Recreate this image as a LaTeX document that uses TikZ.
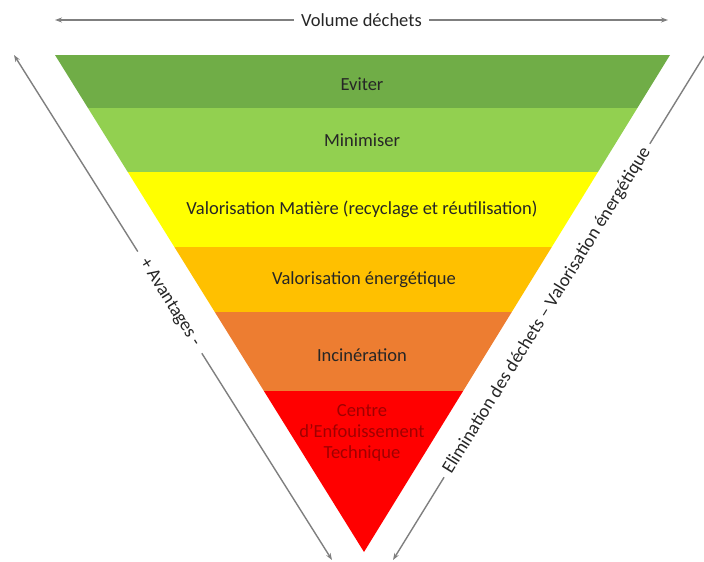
\documentclass[tikz,border=0pt]{standalone}
\usepackage{fontspec}
\setmainfont{Carlito}
\usetikzlibrary{arrows.meta}
\definecolor{cEviter}{HTML}{70AD47}
\definecolor{cMini}{HTML}{92D050}
\definecolor{cVM}{HTML}{FFFF00}
\definecolor{cVE}{HTML}{FFC000}
\definecolor{cInc}{HTML}{ED7D31}
\definecolor{cCET}{HTML}{FF0000}
\definecolor{cCETtxt}{HTML}{A00000}
\definecolor{cArrow}{HTML}{7F7F7F}
\tikzset{
  lbl/.style={font=\fontsize{18.5}{21}\selectfont, text=black!85, align=center},
  axis/.style={draw=cArrow, line width=1.4pt, {Stealth[length=7pt,width=5pt]}-{Stealth[length=7pt,width=5pt]}},
  axisone/.style={draw=cArrow, line width=1.4pt, {Stealth[length=7pt,width=5pt]}-},
  axlbl/.style={font=\fontsize{18.5}{21}\selectfont, text=black!85, fill=white, inner sep=8pt, sloped}
}
\begin{document}
\begin{tikzpicture}[x=1pt,y=-1pt]
\useasboundingbox (0,0) rectangle (704,562);
\coordinate (TL) at (55,55);
\coordinate (TR) at (670,55);
\coordinate (TIP) at (364,552);
\begin{scope}
  \clip (TL) -- (TR) -- (TIP) -- cycle;
  \fill[cEviter] (0,55) rectangle (704,108);
  \fill[cMini]   (0,108) rectangle (704,172);
  \fill[cVM]     (0,172) rectangle (704,247);
  \fill[cVE]     (0,247) rectangle (704,312);
  \fill[cInc]    (0,312) rectangle (704,391);
  \fill[cCET]    (0,391) rectangle (704,560);
\end{scope}
\node[lbl] (n1) at (362,84) {Eviter};
\node[lbl] (n2) at (362,140) {Minimiser};
\node[lbl] (n3) at (362,209) {Valorisation Matière (recyclage et réutilisation)};
\node[lbl] (n4) at (364,280) {Valorisation énergétique};
\node[lbl] (n5) at (362,355) {Incinération};
\node[lbl, text=cCETtxt] (n6) at (362,433) {Centre\\d’Enfouissement\\Technique};
% top axis
\coordinate (VL) at (55,20);
\coordinate (VR) at (668,20);
\draw[axis] (VL) -- node[axlbl, inner sep=7pt] (vt) {Volume déchets} (VR);
% left axis
\coordinate (AL1) at (14,55);
\coordinate (AL2) at (332,560);
\draw[axis] (AL1) -- node[axlbl, pos=0.49, inner sep=10pt] (at) {+ Avantages -} (AL2);
% right axis
\coordinate (AR1) at (393,560);
\coordinate (AR2) at (704,56);
\draw[axisone] (AR1) -- node[axlbl, pos=0.495, inner sep=6pt] (et) {Elimination des déchets – Valorisation énergétique} (AR2);
\end{tikzpicture}
\end{document}
